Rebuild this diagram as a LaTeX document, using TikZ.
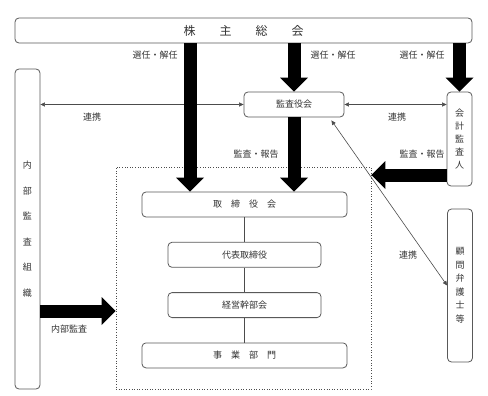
\documentclass[tikz,border=0pt]{standalone}
\usepackage{fontspec}
\setmainfont{Noto Sans CJK JP}
\usetikzlibrary{positioning,arrows.meta,calc}

\begin{document}
\begin{tikzpicture}[x=1pt,y=-1pt,
  every node/.style={font=\fontsize{9}{11}\selectfont,align=center,text=black!80},
  orgbox/.style={rectangle,draw=black!65,rounded corners=4pt,line width=0.8pt,
               minimum height=25pt,inner sep=0pt},
  vbox/.style={orgbox,minimum width=25pt},
  grpframe/.style={rectangle,draw=black!70,dotted,line width=0.6pt,
               minimum width=255pt,minimum height=222pt,inner sep=0pt},
  lbl/.style={font=\fontsize{9}{11}\selectfont,text=black!80},
  fat/.style={line width=13pt,-{Triangle[length=14pt,width=28pt,line width=0pt]}},
  link/.style={line width=0.6pt,black!70,
               {Triangle[length=4.5pt,width=4pt]}-{Triangle[length=4.5pt,width=4pt]}},
  tie/.style={line width=0.6pt,black!70},
]
\useasboundingbox (0,0) rectangle (488,396);

\node[orgbox,minimum width=457pt,font=\fontsize{12}{14}\selectfont] (gm) at (243.5,30.5) {株　　主　　総　　会};
\node[vbox,minimum height=320pt,font=\fontsize{9}{25.5}\selectfont] (internal) at (27.5,229) {内\\部\\監\\査\\組\\織};
\node[vbox,minimum height=94pt,font=\fontsize{9}{13}\selectfont] (auditor) at (459.5,139) {会\\計\\監\\査\\人};
\node[vbox,minimum height=153pt,font=\fontsize{9}{13.5}\selectfont] (lawyer) at (460,285.5) {顧\\問\\弁\\護\\士\\等};
\node[orgbox,minimum width=100pt] (kansa) at (294,104.5) {監査役会};

\node[grpframe] (grp) at (243.5,278) {};
\node[orgbox,minimum width=205pt] (bod) at (244.5,204.5) {取　締　役　会};
\node[orgbox,minimum width=153pt,below=24.5pt of bod] (rep) {代表取締役};
\node[orgbox,minimum width=153pt,below=24.5pt of rep] (exec) {経営幹部会};
\node[orgbox,minimum width=205pt,below=24.5pt of exec] (biz) {事　業　部　門};

\coordinate (a1) at (190,0);
\coordinate (a5) at (0,175);
\coordinate (a6) at (0,311);

% labels
\node[lbl] (sel1) at (155,55) {選任・解任};
\node[lbl] (sel2) at (333,55) {選任・解任};
\node[lbl] (sel3) at (422,55) {選任・解任};
\node[lbl] (lk1) at (92,117) {連携};
\node[lbl] (lk2) at (397,117) {連携};
\node[lbl] (lk3) at (408,255) {連携};
\node[lbl] (rp1) at (256,154) {監査・報告};
\node[lbl] (rp2) at (422,154) {監査・報告};
\node[lbl] (ia) at (69,329) {内部監査};

\draw[link] (internal.east |- kansa.west) -- (kansa.west);
\draw[link] (kansa.east) -- (auditor.west |- kansa.east);
\draw[link] ([xshift=-13pt,yshift=-3pt]kansa.south east) -- (lawyer.west);

\draw[tie] (bod) -- (rep);
\draw[tie] (rep) -- (exec);
\draw[tie] (exec) -- (biz);

\draw[fat] (gm.south -| a1) -- (bod.north -| a1);
\draw[fat] (gm.south -| kansa.north) -- (kansa.north);
\draw[fat] (kansa.south) -- (bod.north -| kansa.south);
\draw[fat] (gm.south -| auditor.north) -- (auditor.north);
\draw[fat] (auditor.west |- a5) -- (grp.east |- a5);
\draw[fat] (internal.east |- a6) -- (grp.west |- a6);
\end{tikzpicture}
\end{document}
